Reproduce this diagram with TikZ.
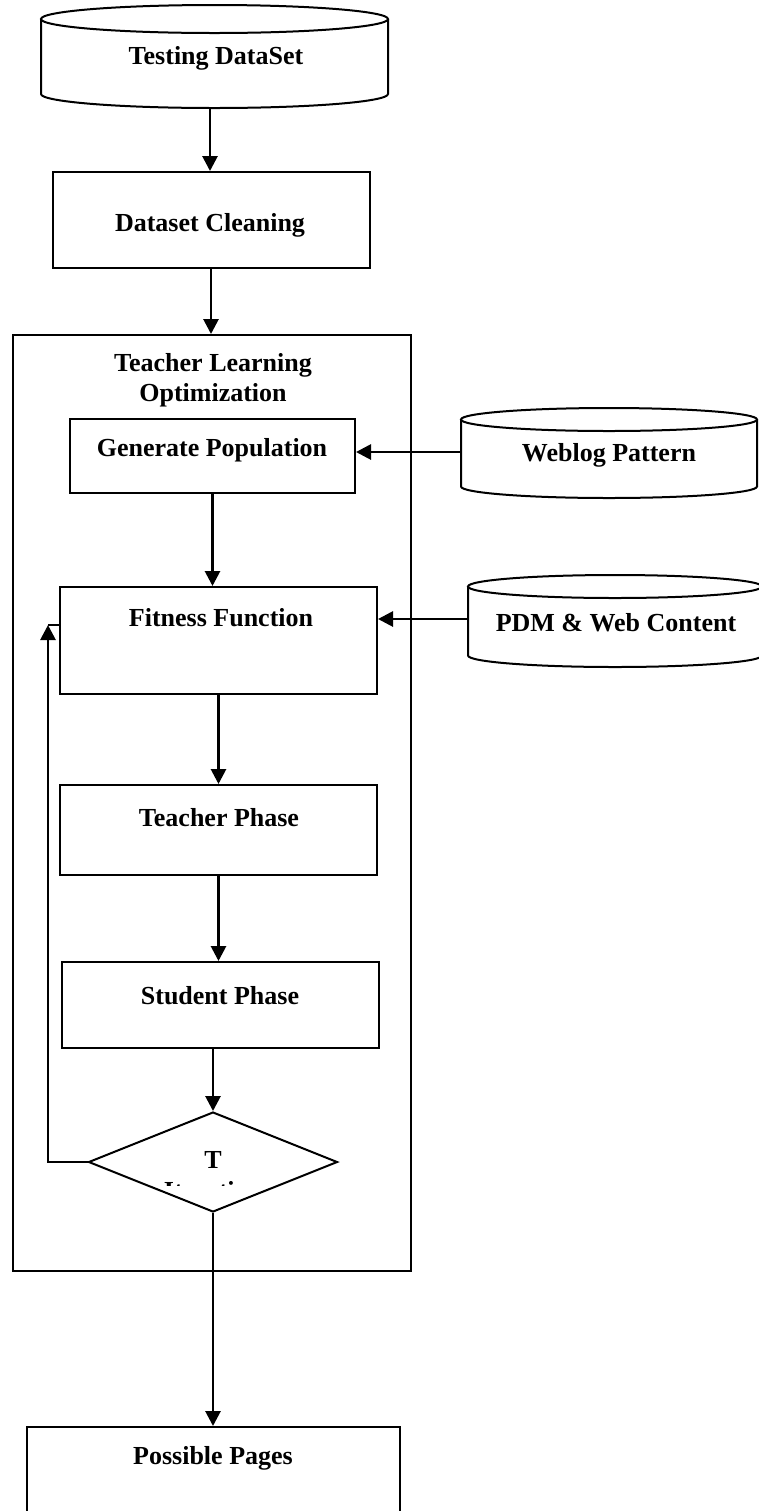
\documentclass[tikz,border=0pt]{standalone}
\usepackage{fontspec}
\setmainfont{Liberation Serif}
\usetikzlibrary{arrows.meta}
\usetikzlibrary{shapes.geometric}

\tikzset{
  box/.style={draw, line width=1pt, rectangle, inner sep=0pt},
  lbl/.style={font=\bfseries\fontsize{13}{15}\selectfont, inner sep=0pt, align=center},
  arr/.style={-{Triangle[length=7.5pt,width=7.5pt]}, line width=1.4pt},
  link/.style={line width=1.4pt},
}

% drum: left x, right x, top y, bottom y, rim half-height
\newcommand{\datadrum}[5]{%
  \pgfmathsetmacro{\drumrx}{(#2-#1)/4}%
  \pgfmathsetmacro{\drumry}{#5/2}%
  \draw[line width=1pt] (#1,#3+#5) -- (#1,#4-#5)
    arc[start angle=180, end angle=360, x radius=\drumrx pt, y radius=\drumry pt]
    -- (#2,#3+#5);
  \draw[line width=1pt] ({(#1+#2)/2},#3+#5) ellipse[x radius=\drumrx pt, y radius=\drumry pt];
}

\begin{document}
\begin{tikzpicture}[x=0.5pt,y=-0.5pt]
\useasboundingbox (0,0) rectangle (759,1511);
\clip (0,0) rectangle (759,1511);

% data sources
\datadrum{41}{388}{5}{108}{14}
\node[lbl] (testing) at (216,58) {Testing DataSet};
\coordinate (testS) at (210,108);
\datadrum{461}{757}{408}{498}{11.5}
\node[lbl] (weblog) at (609,455) {Weblog Pattern};
\coordinate (weblogW) at (461,452);
\datadrum{468}{762}{575}{667}{11.5}
\node[lbl] (pdm) at (616,623) {PDM \& Web Content};
\coordinate (pdmW) at (468,619);

% boxes
\node[box, minimum width=158.5pt, minimum height=48pt] (clean) at (211,220) {};
\node[lbl] (cleanT) at (210,225) {Dataset Cleaning};
\node[box, minimum width=199pt, minimum height=468pt] (tlo) at (212,803) {};
\node[lbl] (tloT) at (213,380) {Teacher Learning\\Optimization};
\node[box, minimum width=142.5pt, minimum height=37pt] (gen) at (212.5,456) {};
\node[lbl] (genT) at (212,450) {Generate Population};
\node[box, minimum width=158.5pt, minimum height=53.5pt] (fit) at (218.5,640.5) {};
\node[lbl] (fitT) at (221,618) {Fitness Function};
\node[box, minimum width=158.5pt, minimum height=45pt] (teach) at (218.5,830) {};
\node[lbl] (teachT) at (219,818) {Teacher Phase};
\node[box, minimum width=158.5pt, minimum height=43pt] (stud) at (220.5,1005) {};
\node[lbl] (studT) at (220,996) {Student Phase};
\node[draw, diamond, line width=1pt, minimum width=124.5pt, minimum height=50pt,
  inner sep=0pt] (dec) at (213,1162) {};
\node[lbl, anchor=base] (decT) at (213,1168) {T};
\begin{scope}
  \clip (150,1140) rectangle (280,1185);
  \node[lbl, anchor=base] (decT2) at (213,1199) {Iteration};
\end{scope}
\node[box, minimum width=186.5pt, minimum height=56pt] (poss) at (213.5,1483) {};
\node[lbl] (possT) at (213,1458) {Possible Pages};

% flow
\draw[arr] (testS) -- (testS |- clean.north);
\draw[arr] (clean.south) -- (clean.south |- tlo.north);
\draw[arr] (weblogW) -- (weblogW -| gen.east);
\draw[arr] (gen.south) -- (gen.south |- fit.north);
\draw[arr] (pdmW) -- (pdmW -| fit.east);
\draw[arr] (fit.south) -- (fit.south |- teach.north);
\draw[arr] (teach.south) -- (teach.south |- stud.north);
\draw[arr] (dec.north |- stud.south) -- (dec.north);
\draw[arr] (dec.south) -- (dec.south |- poss.north);
% loop back
\coordinate (loopup) at (48,625);
\draw[arr] (dec.west) -| (loopup);
\draw[link] (loopup) -- (loopup -| fit.west);
\end{tikzpicture}
\end{document}
